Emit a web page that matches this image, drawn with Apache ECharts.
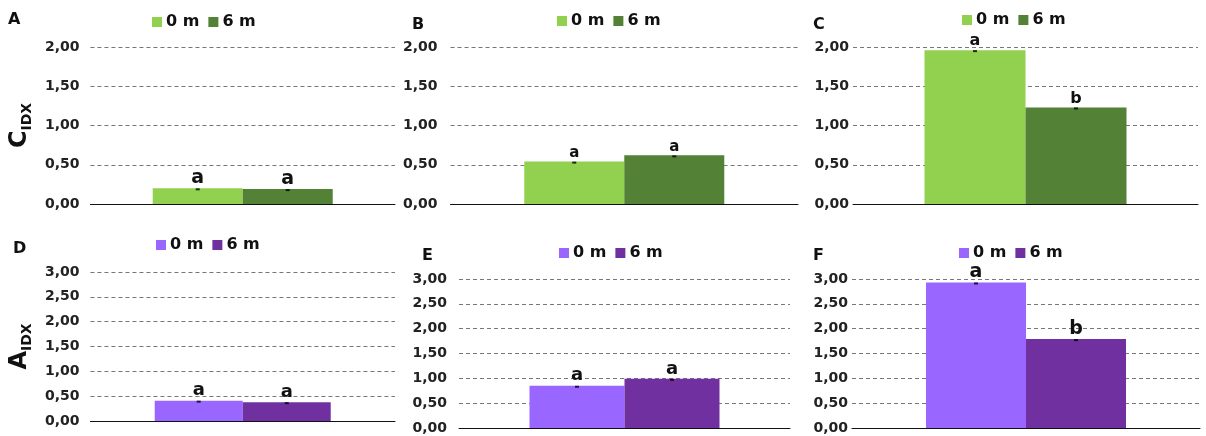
<!DOCTYPE html>
<html>
<head>
<meta charset="utf-8">
<script src="https://cdn.jsdelivr.net/npm/echarts@6/dist/echarts.min.js"></script>
<style>
  html, body { margin: 0; padding: 0; background: #fff; }
  #wrap { position: relative; width: 1206px; height: 436px; }
  .panel { position: absolute; }
</style>
</head>
<body>
<div id="wrap"></div>
<script>
// data
const panelNames = ["A", "B", "C", "D", "E", "F"];
const seriesNames = ["0 m", "6 m"];
const values0m = [0.20, 0.54, 1.96, 0.41, 0.85, 2.93];
const values6m = [0.19, 0.62, 1.23, 0.38, 0.99, 1.79];
const letters0m = ["a", "a", "a", "a", "a", "a"];
const letters6m = ["a", "a", "b", "a", "a", "b"];
const yMaxTop = 2.0;
const yMaxBottom = 3.0;
const yStep = 0.5;

// layout / style per panel
const FONT = "DejaVu Sans";
const greens = ["#92d050", "#538135"];
const purples = ["#9966ff", "#7030a0"];
const layout = [
  { x: 0,   y: 0,   w: 400, h: 218, grid: [80, 5, 47, 14], margin: 11, bw: 90,  lf: 19, titleX: 8,  titleY: 12, legX: 152, legY: 14, yName: "{m|C}{s|IDX}" },
  { x: 400, y: 0,   w: 400, h: 218, grid: [49, 2, 47, 14], margin: 13, bw: 100, lf: 15, titleX: 12, titleY: 17, legX: 157, legY: 13 },
  { x: 800, y: 0,   w: 406, h: 218, grid: [53, 8, 47, 14], margin: 4,  bw: 101, lf: 16, titleX: 13, titleY: 17, legX: 162, legY: 12 },
  { x: 0,   y: 218, w: 400, h: 218, grid: [86, 5, 54, 15], margin: 11, bw: 88,  lf: 18, titleX: 13, titleY: 23, legX: 156, legY: 19, yName: "{m|A}{s|IDX}" },
  { x: 400, y: 218, w: 400, h: 218, grid: [59, 10, 61, 8], margin: 12, bw: 95,  lf: 18, titleX: 22, titleY: 30, legX: 159, legY: 27 },
  { x: 800, y: 218, w: 406, h: 218, grid: [52, 6, 61, 8],  margin: 4,  bw: 100, lf: 19, titleX: 13, titleY: 30, legX: 159, legY: 27 },
];

const wrap = document.getElementById("wrap");

function initPanel(i) {
  const L = layout[i];
  const div = document.createElement("div");
  div.className = "panel";
  div.style.left = L.x + "px";
  div.style.top = L.y + "px";
  div.style.width = L.w + "px";
  div.style.height = L.h + "px";
  wrap.appendChild(div);

  const top = i < 3;
  const colors = top ? greens : purples;
  const yMax = top ? yMaxTop : yMaxBottom;
  const vals = [values0m[i], values6m[i]];
  const letters = [letters0m[i], letters6m[i]];

  const chart = echarts.init(div, null, { renderer: "canvas" });
  const option = {
    animation: false,
    title: {
      text: panelNames[i],
      left: L.titleX,
      top: L.titleY,
      padding: 0,
      textStyle: { fontFamily: FONT, fontSize: 16, fontWeight: "bold", color: "#111" },
    },
    legend: {
      left: L.legX,
      top: L.legY,
      icon: "rect",
      itemWidth: 10,
      itemHeight: 10,
      itemGap: 9,
      padding: 0,
      data: seriesNames,
      textStyle: { fontFamily: FONT, fontSize: 16, fontWeight: "bold", color: "#111", padding: [0, 0, 0, -1] },
    },
    grid: { left: L.grid[0], right: L.grid[1], top: L.grid[2], bottom: L.grid[3] },
    xAxis: {
      type: "category",
      data: [""],
      axisTick: { show: false },
      axisLabel: { show: false },
      axisLine: { lineStyle: { color: "#111", width: 1 } },
    },
    yAxis: {
      type: "value",
      min: 0,
      max: yMax,
      interval: yStep,
      axisLine: { show: false },
      axisTick: { show: false },
      axisLabel: {
        margin: L.margin,
        fontFamily: FONT,
        fontSize: 14,
        fontWeight: "bold",
        color: "#222",
        formatter: (v) => v.toFixed(2).replace(".", ","),
      },
      splitLine: { lineStyle: { color: "#777", type: [4, 3], width: 1 } },
      name: L.yName || "",
      nameLocation: "middle",
      nameRotate: 90,
      nameGap: 45,
      nameTextStyle: {
        rich: {
          m: { fontFamily: FONT, fontSize: 24, fontWeight: "bold", color: "#111", lineHeight: 28, verticalAlign: "middle" },
          s: { fontFamily: FONT, fontSize: 14, fontWeight: "bold", color: "#111", lineHeight: 28, verticalAlign: "bottom" },
        },
      },
    },
    series: [
      ...seriesNames.map((name, k) => ({
        name: name,
        type: "bar",
        barWidth: L.bw,
        barGap: "0%",
        data: [vals[k]],
        itemStyle: { color: colors[k] },
        label: {
          show: true,
          position: "top",
          distance: 1,
          formatter: () => letters[k],
          fontFamily: FONT,
          fontSize: L.lf,
          fontWeight: "bold",
          color: "#111",
        },
      })),
      // small error-bar caps
      ...seriesNames.map((name, k) => ({
        name: name,
        type: "scatter",
        data: [vals[k]],
        symbol: "rect",
        symbolSize: [4, 2],
        symbolOffset: [(k === 0 ? -1 : 1) * L.bw / 2, 1],
        itemStyle: { color: "#000" },
        z: 5,
        silent: true,
      })),
    ],
  };
  chart.setOption(option);
}

panelNames.forEach((_, i) => initPanel(i));
</script>
</body>
</html>
